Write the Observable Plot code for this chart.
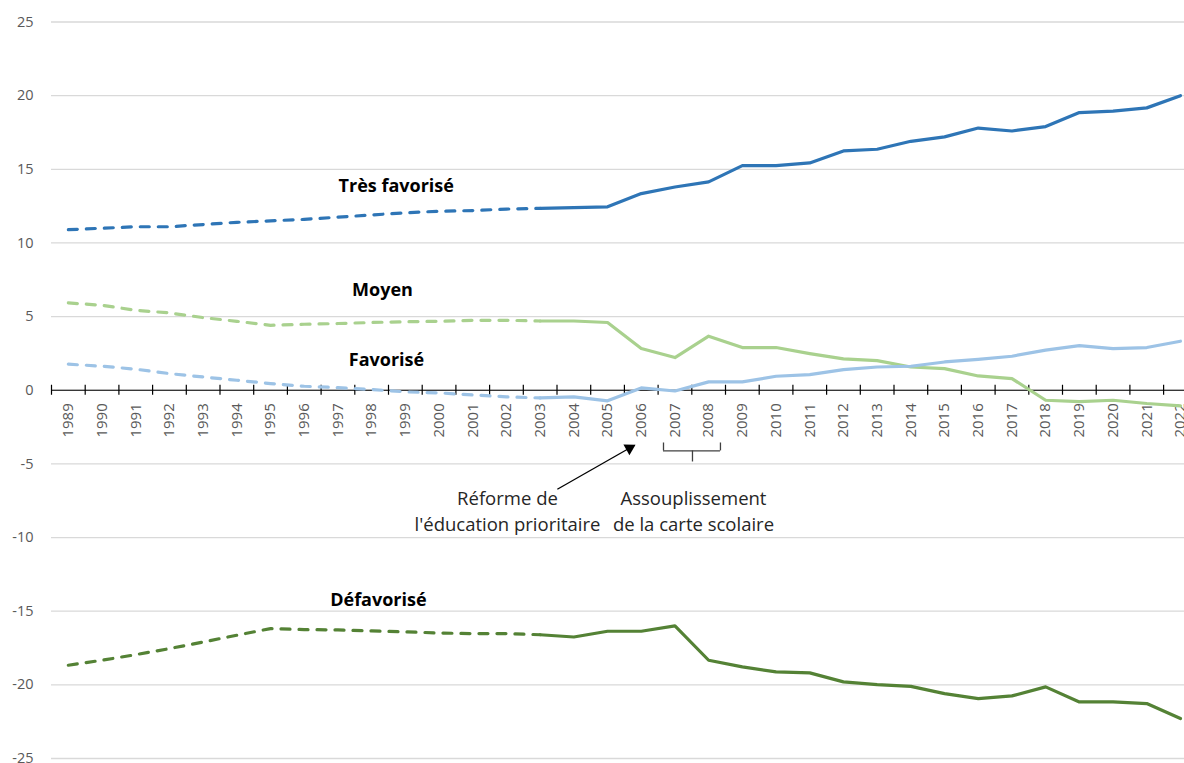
<!DOCTYPE html>
<html><head><meta charset="utf-8">
<script src="https://cdn.jsdelivr.net/npm/d3@7"></script>
<script src="https://cdn.jsdelivr.net/npm/@observablehq/plot@0.6"></script>
<style>
html,body{margin:0;padding:0;background:#fff;overflow:hidden}
#chart svg{display:block}
</style>
</head><body><div id="chart"></div>
<script>
const years = d3.range(1989, 2023);
const tresFavorise = [10.9,11.0,11.1,11.1,11.25,11.4,11.5,11.6,11.75,11.9,12.05,12.15,12.2,12.3,12.35,12.4,12.45,13.35,13.8,14.15,15.25,15.25,15.43,16.25,16.36,16.9,17.2,17.8,17.6,17.9,18.85,18.95,19.17,20.0];
const moyen = [5.93,5.77,5.43,5.25,4.93,4.68,4.41,4.48,4.53,4.6,4.65,4.68,4.75,4.75,4.7,4.7,4.6,2.83,2.22,3.67,2.9,2.9,2.49,2.13,2.01,1.58,1.47,0.97,0.79,-0.68,-0.77,-0.68,-0.9,-1.06];
const favorise = [1.77,1.63,1.43,1.13,0.9,0.68,0.45,0.27,0.18,0.05,-0.11,-0.18,-0.32,-0.45,-0.52,-0.45,-0.72,0.16,-0.05,0.57,0.57,0.95,1.06,1.4,1.58,1.63,1.92,2.1,2.31,2.72,3.03,2.83,2.9,3.33];
const defavorise = [-18.67,-18.33,-17.95,-17.54,-17.09,-16.63,-16.18,-16.25,-16.27,-16.34,-16.4,-16.48,-16.52,-16.52,-16.6,-16.75,-16.36,-16.36,-16.0,-18.33,-18.78,-19.12,-19.19,-19.8,-19.98,-20.1,-20.6,-20.93,-20.75,-20.14,-21.16,-21.16,-21.27,-22.29];
const seriesNames = ["Très favorisé","Moyen","Favorisé","Défavorisé"];
const seriesColors = ["#2e75b6","#a9d18e","#9dc3e6","#548235"];
const seriesValues = [tresFavorise, moyen, favorise, defavorise];
const yTicks = [25,20,15,10,5,0,-5,-10,-15,-20,-25];
const splitYear = 2003;
// label anchors (year, value)
const labelYears = [1998.73, 1998.32, 1998.44, 1998.2];
const labelValues = [13.85, 6.79, 2.04, -14.26];
const noteTexts = ["Réforme de\nl'éducation prioritaire", "Assouplissement\nde la carte scolaire"];
const noteYears = [2002.03, 2007.55];
const noteValues = [-8.1, -8.1];

const rows = [];
seriesNames.forEach((name, s) => years.forEach((yr, i) => rows.push({series: name, year: yr, value: seriesValues[s][i], color: seriesColors[s]})));
const dashed = rows.filter(d => d.year <= splitYear);
const solid = rows.filter(d => d.year >= splitYear);
const labels = seriesNames.map((n, i) => ({text: n, year: labelYears[i], value: labelValues[i]}));
const notes = noteTexts.map((t, i) => ({text: t, year: noteYears[i], value: noteValues[i]}));
const boundaries = years.slice(1).map(y => y - 0.5).concat([1988.5]);
const arrow = [{x1: 2003.51, y1: -6.72, x2: 2005.8, y2: -3.73}];
const arrowHead = [{x: 2005.65, y: -3.93}];
const bracketH = [{x1: 2006.66, x2: 2008.35, y: -4.12}];
const bracketV = [{x: 2006.66, y1: -4.12, y2: -3.58}, {x: 2008.35, y1: -4.12, y2: -3.58}, {x: 2007.52, y1: -4.12, y2: -4.87}];

const font = "'Open Sans', Lato, sans-serif";
const chart = Plot.plot({
  width: 1184, height: 763,
  marginLeft: 51, marginRight: 0, marginTop: 21, marginBottom: 5,
  style: {fontFamily: font, background: "#fff", color: "#595959", overflow: "visible"},
  x: {type: "linear", domain: [1988.5, 2022.12], range: [51, 1184], axis: null},
  y: {domain: [-25, 25], range: [758, 21.5]},
  marks: [
    Plot.gridY(yTicks, {stroke: "#d9d9d9", strokeOpacity: 1, strokeWidth: 1.3}),
    Plot.axisY(yTicks, {tickSize: 0, tickPadding: 18, fontSize: 14.5, tickFormat: d => String(d), fill: "#595959"}),
    Plot.ruleY([0], {stroke: "#000", strokeWidth: 1.2}),
    Plot.ruleX(boundaries, {x: d => d, y1: -0.34, y2: 0.34, stroke: "#000", strokeWidth: 1.2}),
    Plot.text(years, {x: d => d, y: 0, text: d => String(d), rotate: -90, textAnchor: "end", dy: 13, fontSize: 15, fill: "#595959"}),
    Plot.line(dashed, {x: "year", y: "value", z: "series", stroke: "color", strokeWidth: 3.2, strokeDasharray: "9,9", strokeLinecap: "round"}),
    Plot.line(solid, {x: "year", y: "value", z: "series", stroke: "color", strokeWidth: 3.2, strokeLinejoin: "round"}),
    Plot.text(labels, {x: "year", y: "value", text: "text", fontWeight: "bold", fontSize: 18, fill: "#000"}),
    Plot.text(notes, {x: "year", y: "value", text: "text", fontSize: 18.5, fill: "#262626", lineHeight: 1.42}),
    Plot.link(arrow, {x1: "x1", y1: "y1", x2: "x2", y2: "y2", stroke: "#000", strokeWidth: 1.3}),
    Plot.dot(arrowHead, {x: "x", y: "y", symbol: "triangle", r: 4.5, fill: "#000", stroke: null, rotate: 60.3}),
    Plot.ruleY(bracketH, {x1: "x1", x2: "x2", y: "y", stroke: "#404040", strokeWidth: 1.3}),
    Plot.ruleX(bracketV, {x: "x", y1: "y1", y2: "y2", stroke: "#404040", strokeWidth: 1.3})
  ]
});
document.getElementById("chart").appendChild(chart);
</script>
</body></html>
